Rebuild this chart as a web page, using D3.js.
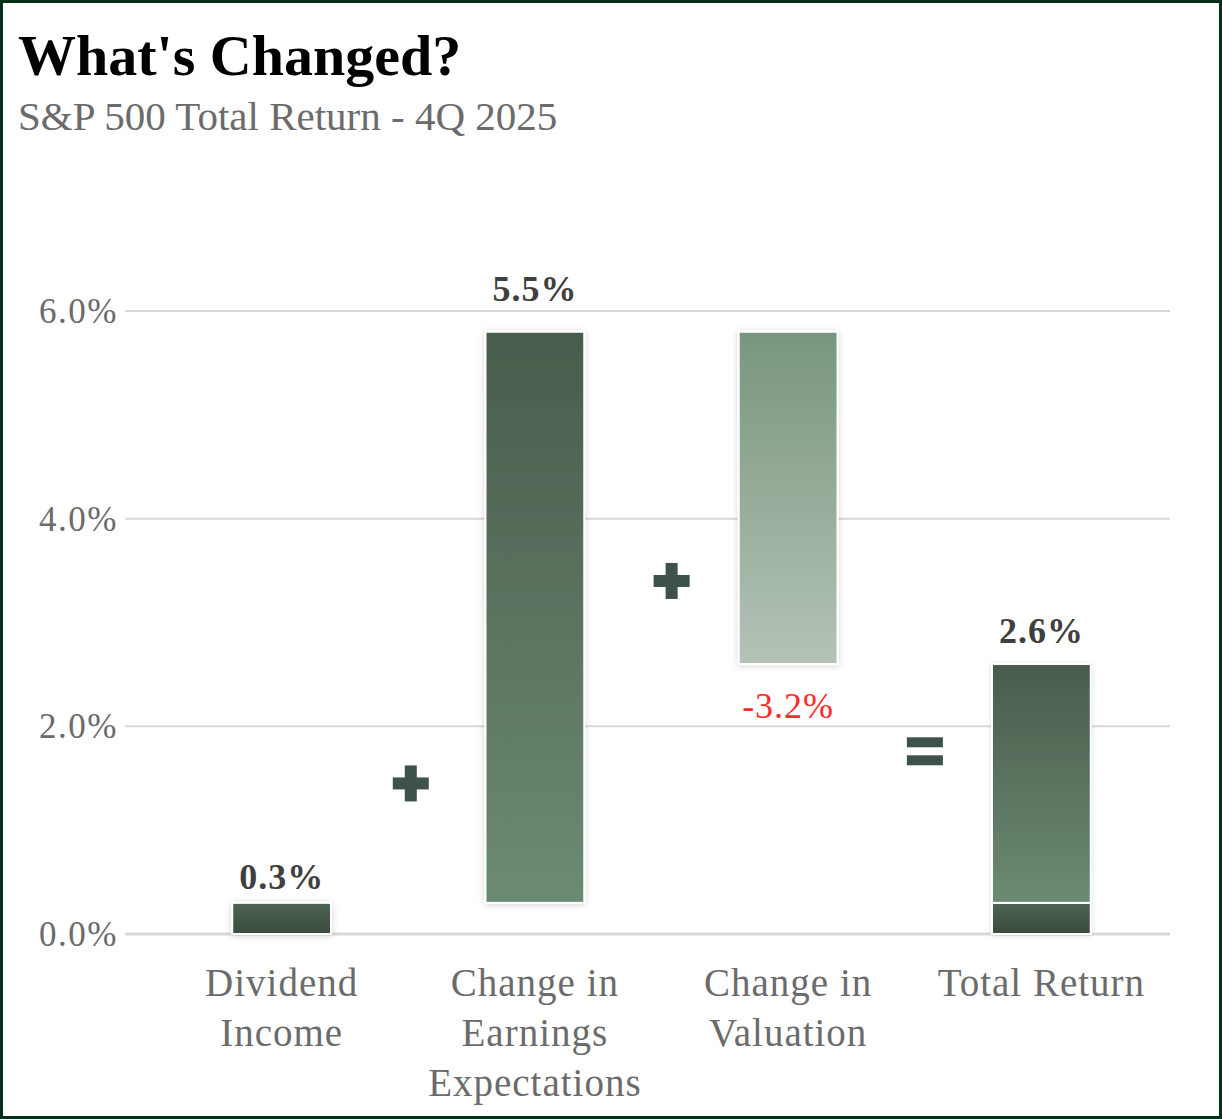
<!DOCTYPE html>
<html>
<head>
<meta charset="utf-8">
<script src="https://cdn.jsdelivr.net/npm/d3@7"></script>
<style>
  html, body { margin: 0; padding: 0; background: #fff; }
  #chart { width: 1222px; height: 1119px; }
  text { font-family: "Liberation Serif", serif; }
</style>
</head>
<body>
<div id="chart"></div>
<script>
// categories and values (percent)
const categories = ["Dividend Income", "Change in Earnings Expectations", "Change in Valuation", "Total Return"];
const catLines = [["Dividend", "Income"], ["Change in", "Earnings", "Expectations"], ["Change in", "Valuation"], ["Total Return"]];
const barStart = [0, 0.3, 5.8, 0];
const barEnd = [0.3, 5.8, 2.6, 2.6];
const valueLabels = ["0.3%", "5.5%", "-3.2%", "2.6%"];
const labelLevel = [0.43, 6.1, 2.08, 2.8];
const yTicks = [0, 2, 4, 6];
// operators between bars: sign, fraction of the way from band i to band i+1, level on y scale
const operators = [
  {sign: "+", after: 0, frac: 0.51, level: 1.45},
  {sign: "+", after: 1, frac: 0.54, level: 3.4},
  {sign: "=", after: 2, frac: 0.54, level: 1.75}
];

const W = 1222, H = 1119;
const svg = d3.select("#chart").append("svg")
  .attr("width", W).attr("height", H);

const defs = svg.append("defs");
function grad(id, top, bottom) {
  const g = defs.append("linearGradient").attr("id", id)
    .attr("x1", 0).attr("y1", 0).attr("x2", 0).attr("y2", 1);
  g.append("stop").attr("offset", "0%").attr("stop-color", top);
  g.append("stop").attr("offset", "100%").attr("stop-color", bottom);
}
grad("gDark", "#4d6553", "#394a3e");
grad("gMain", "#495c4c", "#6b8b72");
grad("gLight", "#78967e", "#b4c3b6");
const shadow = defs.append("filter").attr("id", "shadow")
  .attr("x", "-20%").attr("y", "-20%").attr("width", "140%").attr("height", "140%");
shadow.append("feDropShadow").attr("dx", 0).attr("dy", 1)
  .attr("stdDeviation", 3).attr("flood-color", "#000").attr("flood-opacity", 0.18);

// border
svg.append("rect").attr("x", 1.5).attr("y", 1.5).attr("width", W - 3).attr("height", H - 3)
  .attr("fill", "#fff").attr("stroke", "#06301c").attr("stroke-width", 3);

svg.append("text").attr("x", 18).attr("y", 75)
  .attr("font-size", 58).attr("font-weight", "bold").attr("fill", "#000")
  .text("What's Changed?");
svg.append("text").attr("x", 18).attr("y", 130)
  .attr("font-size", 41).attr("fill", "#6b6b6b")
  .text("S&P 500 Total Return - 4Q 2025");

const y = d3.scaleLinear().domain([0, 6]).range([934, 311]);
const x = d3.scaleBand().domain(categories).range([155, 1168]).paddingInner(0.61).paddingOuter(0.305);
const cx = c => x(c) + x.bandwidth() / 2;

// gridlines
svg.append("g").selectAll("line").data(yTicks).join("line")
  .attr("x1", 125).attr("x2", 1170)
  .attr("y1", d => y(d)).attr("y2", d => y(d))
  .attr("stroke", "#d9d9d9").attr("stroke-width", d => d === 0 ? 3 : 2);

svg.append("g").selectAll("text").data(yTicks).join("text")
  .attr("x", 118).attr("y", d => y(d) + 12)
  .attr("text-anchor", "end").attr("font-size", 35).attr("letter-spacing", 1.5).attr("fill", "#6b6b6b")
  .text(d => d.toFixed(1) + "%");

// bars
const bars = svg.append("g");
const fills = ["url(#gDark)", "url(#gMain)", "url(#gLight)", "url(#gMain)"];
categories.forEach((c, i) => {
  const lo = Math.min(barStart[i], barEnd[i]), hi = Math.max(barStart[i], barEnd[i]);
  if (i === 3) {
    // total return: dividend part + rest
    bars.append("rect").attr("x", x(c)).attr("width", x.bandwidth())
      .attr("y", y(hi)).attr("height", y(0) - y(hi))
      .attr("fill", "#fff").attr("filter", "url(#shadow)");
    bars.append("rect").attr("x", x(c)).attr("width", x.bandwidth())
      .attr("y", y(barEnd[0])).attr("height", y(0) - y(barEnd[0]))
      .attr("fill", "url(#gDark)").attr("stroke", "#fff").attr("stroke-width", 2);
    bars.append("rect").attr("x", x(c)).attr("width", x.bandwidth())
      .attr("y", y(hi)).attr("height", y(barEnd[0]) - y(hi))
      .attr("fill", "url(#gMain)").attr("stroke", "#fff").attr("stroke-width", 2);
  } else {
    bars.append("rect").attr("x", x(c)).attr("width", x.bandwidth())
      .attr("y", y(hi)).attr("height", y(lo) - y(hi))
      .attr("fill", fills[i]).attr("stroke", "#fff").attr("stroke-width", 2)
      .attr("filter", "url(#shadow)");
  }
});

// value labels
svg.append("g").selectAll("text").data(categories).join("text")
  .attr("x", d => cx(d))
  .attr("y", (d, i) => y(labelLevel[i]))
  .attr("text-anchor", "middle").attr("font-size", 36).attr("letter-spacing", 1)
  .attr("font-weight", (d, i) => barEnd[i] < barStart[i] ? "normal" : "bold")
  .attr("fill", (d, i) => barEnd[i] < barStart[i] ? "#ff2b2b" : "#3f3f3f")
  .text((d, i) => valueLabels[i]);

// category labels
const xl = svg.append("g");
categories.forEach((c, i) => {
  const t = xl.append("text").attr("y", 996)
    .attr("text-anchor", "middle").attr("font-size", 39).attr("letter-spacing", 1).attr("fill", "#6b6b6b");
  catLines[i].forEach((l, j) => t.append("tspan").attr("x", cx(c))
    .attr("dy", j === 0 ? 0 : 50).text(l));
});

// operators
const ops = svg.append("g").attr("fill", "#3d5248");
operators.forEach(o => {
  const a = cx(categories[o.after]), b = cx(categories[o.after + 1]);
  const px = a + (b - a) * o.frac;
  const py = y(o.level);
  if (o.sign === "+") {
    ops.append("rect").attr("x", px - 18).attr("y", py - 6).attr("width", 36).attr("height", 12);
    ops.append("rect").attr("x", px - 6).attr("y", py - 18).attr("width", 12).attr("height", 36);
  } else {
    ops.append("rect").attr("x", px - 18).attr("y", py - 15).attr("width", 36).attr("height", 10);
    ops.append("rect").attr("x", px - 18).attr("y", py + 3).attr("width", 36).attr("height", 10);
  }
});
</script>
</body>
</html>
